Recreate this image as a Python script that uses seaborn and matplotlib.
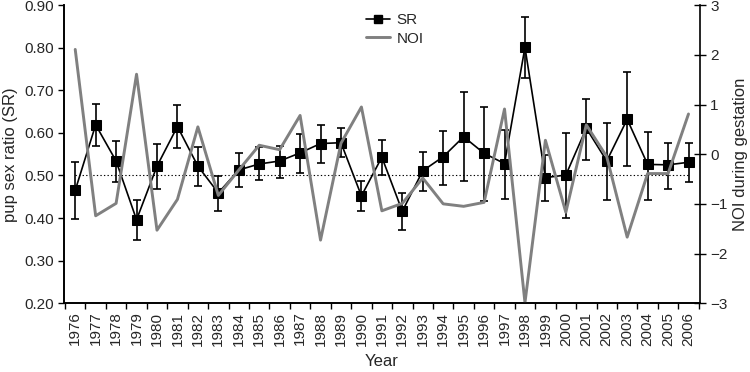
import numpy as np
import pandas as pd
import matplotlib
matplotlib.use("Agg")
import matplotlib.pyplot as plt
import seaborn as sns
from matplotlib.lines import Line2D

# values
years = list(range(1976, 2007))
sr = [0.465, 0.619, 0.534, 0.396, 0.522, 0.615, 0.522, 0.459, 0.513, 0.527,
      0.534, 0.553, 0.575, 0.577, 0.452, 0.543, 0.416, 0.511, 0.544, 0.591,
      0.552, 0.528, 0.801, 0.495, 0.501, 0.611, 0.534, 0.632, 0.526, 0.525,
      0.531]
sr_low = [0.398, 0.569, 0.485, 0.349, 0.469, 0.565, 0.476, 0.417, 0.472, 0.489,
          0.495, 0.506, 0.530, 0.543, 0.416, 0.501, 0.372, 0.463, 0.477, 0.486,
          0.441, 0.445, 0.728, 0.441, 0.400, 0.537, 0.442, 0.522, 0.443, 0.469,
          0.485]
sr_high = [0.531, 0.668, 0.580, 0.442, 0.573, 0.665, 0.568, 0.499, 0.553, 0.567,
           0.570, 0.597, 0.619, 0.612, 0.487, 0.583, 0.458, 0.555, 0.604, 0.695,
           0.660, 0.608, 0.873, 0.547, 0.600, 0.680, 0.624, 0.743, 0.601, 0.577,
           0.577]
noi = [2.11, -1.24, -0.99, 1.61, -1.53, -0.91, 0.55, -0.83, -0.32, 0.18,
       0.09, 0.78, -1.73, 0.22, 0.95, -1.14, -0.99, -0.48, -1.00, -1.05,
       -0.97, 0.91, -2.99, 0.28, -1.17, 0.59, -0.05, -1.67, -0.39, -0.39,
       0.81]

df = pd.DataFrame({"Year": years, "SR": sr, "low": sr_low, "high": sr_high, "NOI": noi})

sns.set_theme(style="ticks")
plt.rcParams['font.family'] = ['Liberation Sans', 'DejaVu Sans']
plt.rcParams['font.size'] = 10.5

fig, ax = plt.subplots(figsize=(7.5, 3.72), dpi=100)
fig.subplots_adjust(left=0.0853, right=0.933, top=0.986, bottom=0.185)

# reference line at 0.5
ax.plot([years[0], years[-1]], [0.5, 0.5], color="black", lw=0.8, ls=(0, (1.2, 2)))

yerr = np.vstack([df["SR"] - df["low"], df["high"] - df["SR"]])
ax.errorbar(df["Year"], df["SR"], yerr=yerr, fmt="none", ecolor="black",
            elinewidth=1.2, capsize=3, capthick=1.2)
sns.lineplot(data=df, x="Year", y="SR", ax=ax, color="black", lw=1.2,
             marker="s", markersize=6.5, markeredgecolor="black", legend=False)

ax.set_ylim(0.2, 0.9)
ax.set_yticks(np.arange(0.2, 0.91, 0.1))
ax.set_yticklabels([f"{v:.2f}" for v in np.arange(0.2, 0.91, 0.1)])
ax.set_xlim(years[0] - 0.55, years[-1] + 0.55)
ax.set_xticks(years)
ax.set_xticklabels([str(y) for y in years], rotation=90)
ax.set_xticks(np.arange(years[0] - 0.5, years[-1] + 0.6, 1), minor=True)
ax.tick_params(axis="x", which="major", length=0, pad=6)
ax.tick_params(axis="x", which="minor", length=4, width=1, color="black")
ax.tick_params(axis="y", length=4, width=1, color="black")
ax.set_xlabel("Year", labelpad=6)
ax.set_ylabel("pup sex ratio (SR)")

ax2 = ax.twinx()
sns.lineplot(data=df, x="Year", y="NOI", ax=ax2, color="#808080", lw=2.1, legend=False)
ax2.set_ylim(-3, 3)
ax2.set_yticks(range(-3, 4))
ax2.tick_params(axis="y", direction="inout", length=8, width=1, color="black")
ax2.set_ylabel("NOI during gestation")

for a in (ax, ax2):
    a.spines["top"].set_visible(False)
    for s in ("left", "right", "bottom"):
        a.spines[s].set_color("black")
        a.spines[s].set_linewidth(1.2)
ax.spines["right"].set_visible(False)

handles = [Line2D([], [], color="black", lw=1.2, marker="s", markersize=6),
           Line2D([], [], color="#808080", lw=2.1)]
ax2.legend(handles, ["SR", "NOI"], loc="upper center", bbox_to_anchor=(0.52, 1.02),
           frameon=False, handlelength=1.6, handletextpad=0.4, labelspacing=0.3,
           fontsize=11)

fig.savefig("out.png", dpi=100)
